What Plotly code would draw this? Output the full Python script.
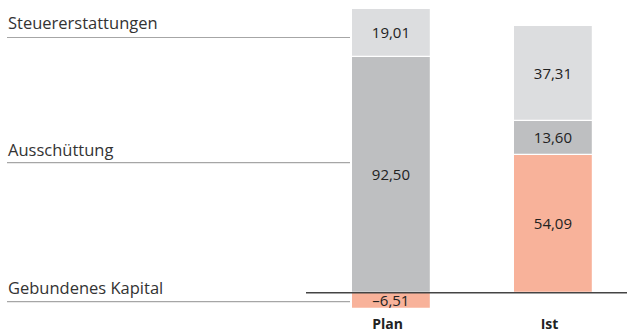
import plotly.graph_objects as go

categories = ["Plan", "Ist"]
series_names = ["Gebundenes Kapital", "Ausschüttung", "Steuererstattungen"]
gebundenes_kapital = [-6.51, 54.09]
ausschuettung = [92.50, 13.60]
steuererstattungen = [19.01, 37.31]
colors = ["#F8B29A", "#BEBFC1", "#DCDDDF"]

W, H = 627, 335
plot_h = 312

def fmt(v):
    s = f"{v:.2f}".replace(".", ",")
    return s.replace("-", "\u2013")

fig = go.Figure()
for name, vals, col in zip(series_names, [gebundenes_kapital, ausschuettung, steuererstattungen], colors):
    fig.add_trace(go.Bar(
        x=categories, y=vals, name=name,
        marker=dict(color=col, line=dict(color="white", width=1.2)),
        width=0.49,
        text=[fmt(v) for v in vals],
        textposition="inside", insidetextanchor="middle",
        constraintext="none",
        textfont=dict(family="Open Sans", size=15, color="#222222"),
        hoverinfo="skip",
    ))

def py(p):
    return 1 - p / plot_h

shapes = []
# label underlines
for yy in [37.5, 162.7, 301.7]:
    shapes.append(dict(type="line", xref="paper", yref="paper",
                       x0=7 / W, x1=350 / W, y0=py(yy), y1=py(yy),
                       line=dict(color="#A6A6A6", width=1.2), layer="above"))
# baseline at zero
shapes.append(dict(type="line", xref="paper", yref="y",
                   x0=306 / W, x1=1, y0=0, y1=0,
                   line=dict(color="#444444", width=1.6), layer="above"))

annotations = []
for txt, yy in [("Steuererstattungen", 22.5), ("Ausschüttung", 149.5), ("Gebundenes Kapital", 287.5)]:
    annotations.append(dict(text=txt, xref="paper", yref="paper",
                            x=6 / W, y=py(yy), xanchor="left", yanchor="middle",
                            showarrow=False,
                            font=dict(family="Open Sans", size=16.5, color="#333333")))

px_per_unit = 162.0
x_center_plan = 391.5
scale_y = 2.544
zero_px = 292.7

fig.update_layout(
    width=W, height=H,
    margin=dict(l=0, r=0, t=0, b=H - plot_h),
    barmode="relative",
    bargap=0,
    showlegend=False,
    plot_bgcolor="white", paper_bgcolor="white",
    uniformtext=dict(minsize=15, mode="show"),
    separators=",.",
    xaxis=dict(type="category", range=[-x_center_plan / px_per_unit, (W - x_center_plan) / px_per_unit],
               showgrid=False, zeroline=False, showline=False, ticks="",
               ticklabelstandoff=2, ticklabelshift=-4,
               tickfont=dict(family="Open Sans", size=14, color="#222222", weight="bold")),
    yaxis=dict(range=[-(plot_h - zero_px) / scale_y, zero_px / scale_y],
               visible=False, showgrid=False, zeroline=False),
    shapes=shapes,
    annotations=annotations,
)

fig.write_html("out.html")
